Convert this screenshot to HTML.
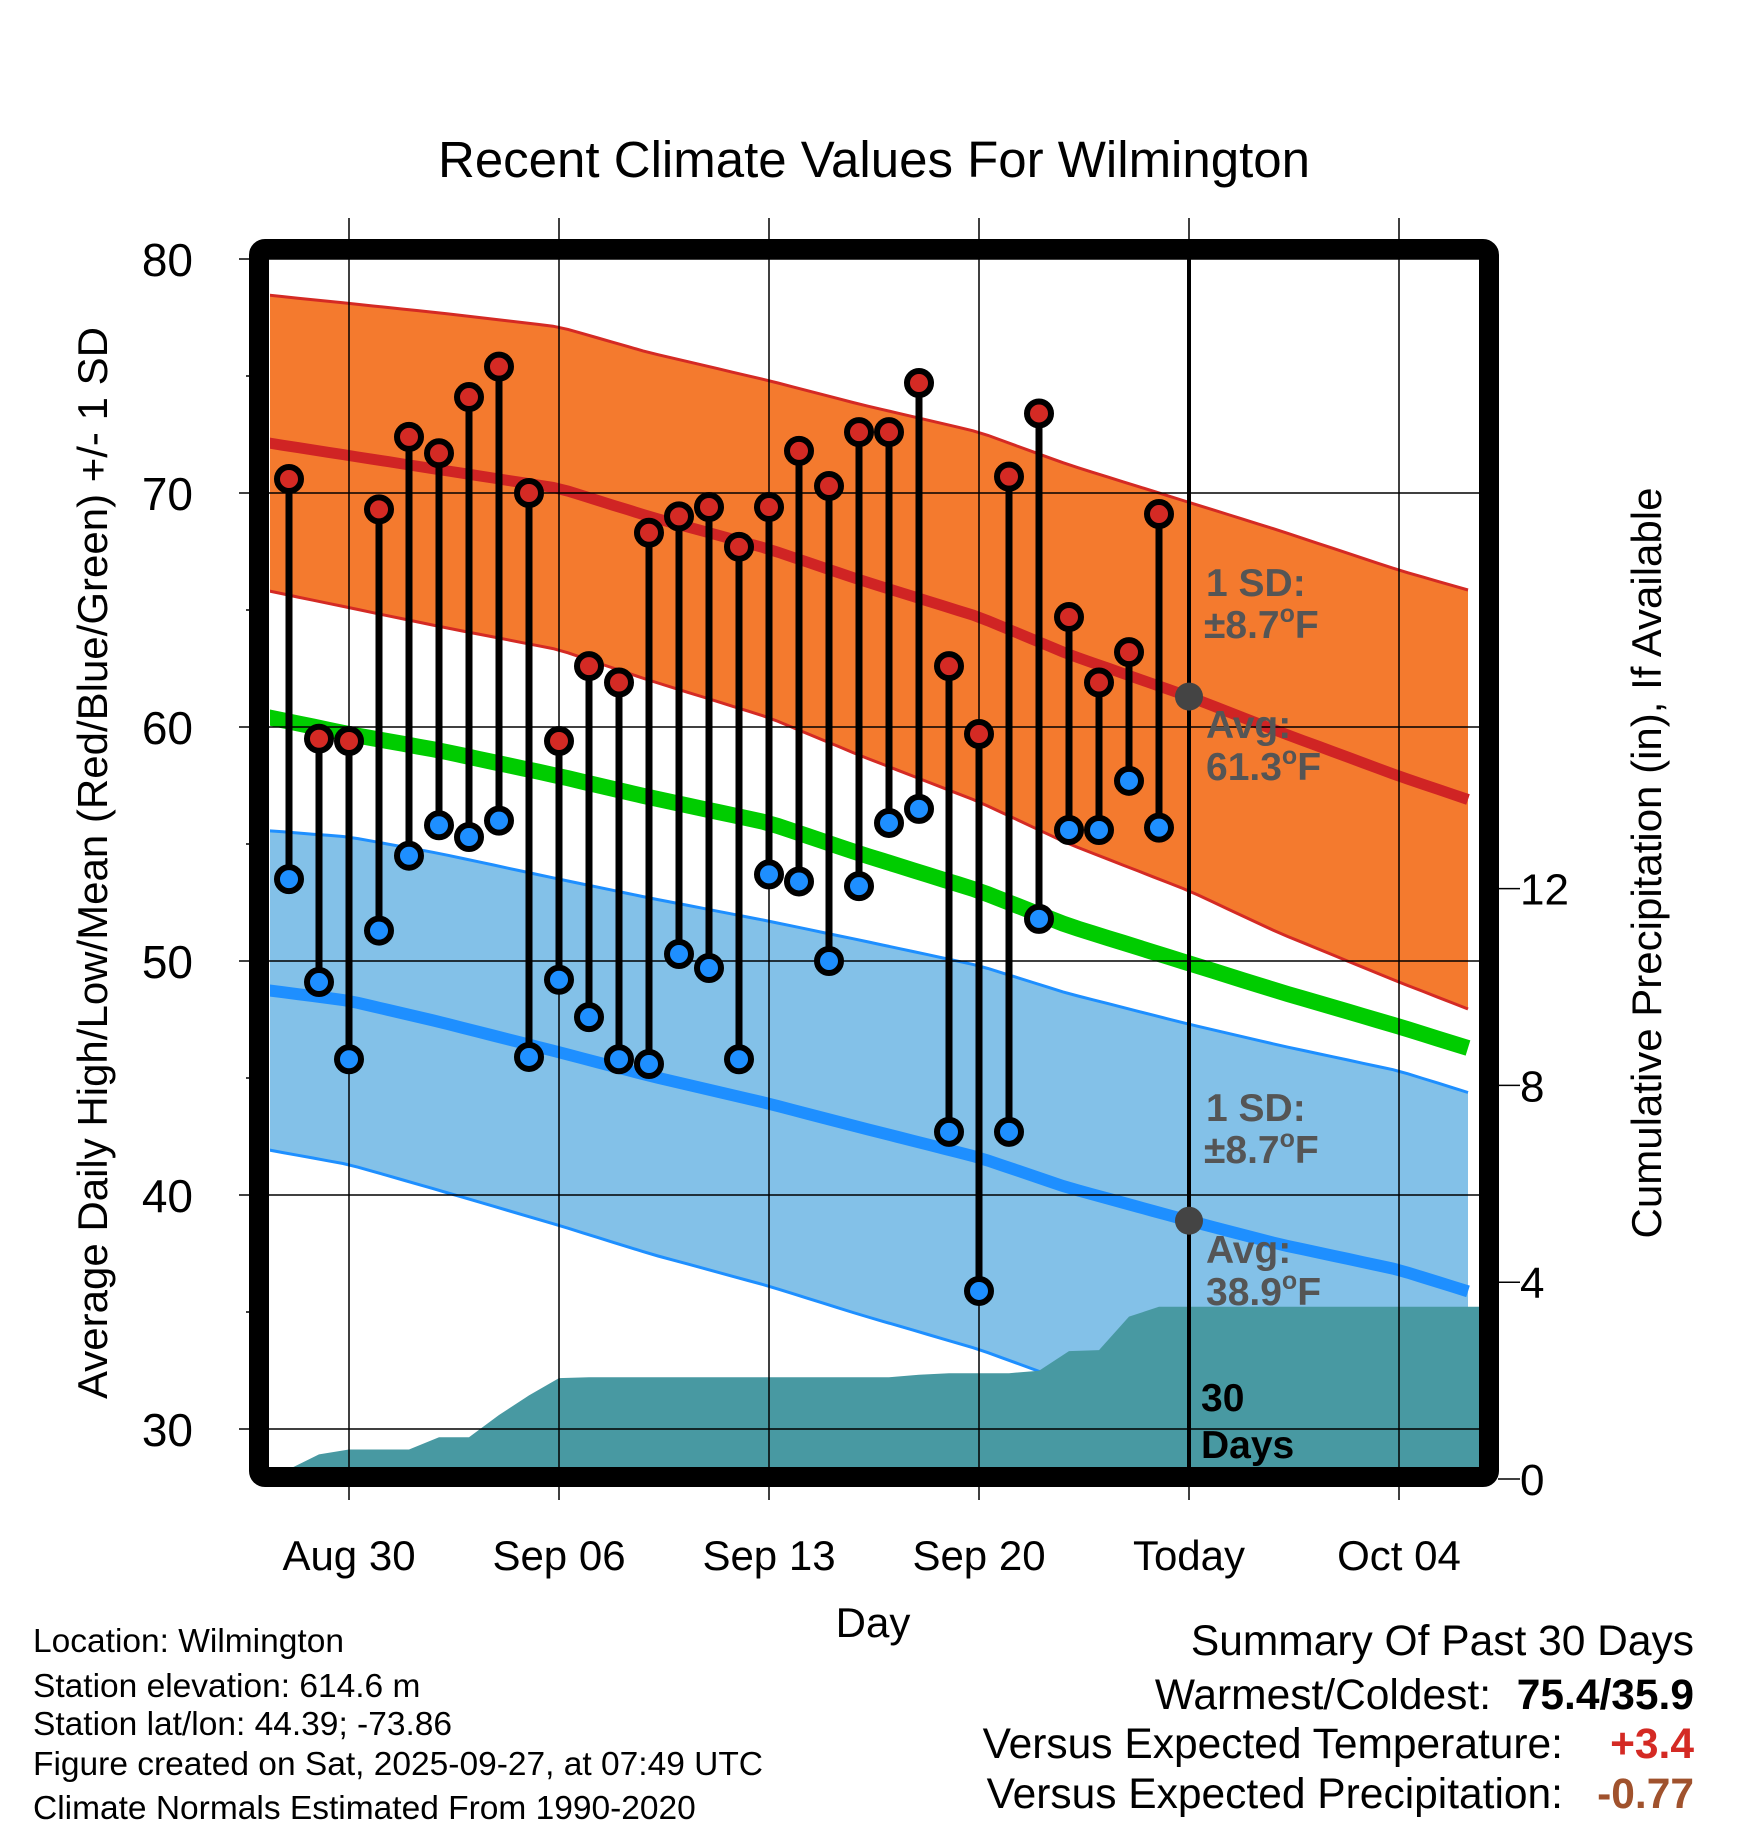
<!DOCTYPE html>
<html><head><meta charset="utf-8">
<style>
html,body{margin:0;padding:0;background:#fff;}
svg{display:block;font-family:"Liberation Sans",sans-serif;}
</style></head>
<body>
<svg id="chart" width="1748" height="1828" viewBox="0 0 1748 1828">
<g id="bands"></g>
<g id="grid"></g>
<g id="stems"></g>
<g id="overlay"></g>
</svg>
<script>
// ---- data ----
const normDays = [-3, 0, 3, 7, 10, 14, 17, 21, 24, 28, 31, 35, 38];
const normHigh = [72.2, 71.6, 71.0, 70.2, 69.0, 67.6, 66.3, 64.7, 63.1, 61.3, 59.8, 57.9, 56.6];
const sdHigh   = [6.3, 6.5, 6.7, 6.9, 7.0, 7.2, 7.5, 7.9, 8.1, 8.3, 8.6, 8.8, 9.0];
const normMean = [60.5, 59.7, 59.0, 57.9, 57.0, 55.9, 54.6, 53.0, 51.5, 49.9, 48.7, 47.2, 46.0];
const normLow  = [48.8, 48.3, 47.4, 46.1, 45.1, 43.9, 42.9, 41.6, 40.3, 38.9, 37.9, 36.8, 35.6];
const sdLow    = [6.8, 7.0, 7.2, 7.4, 7.6, 7.8, 8.0, 8.2, 8.3, 8.4, 8.5, 8.5, 8.5];
const obsDays  = [-2,-1,0,1,2,3,4,5,6,7,8,9,10,11,12,13,14,15,16,17,18,19,20,21,22,23,24,25,26,27];
const obsHigh  = [70.6,59.5,59.4,69.3,72.4,71.7,74.1,75.4,70.0,59.4,62.6,61.9,68.3,69.0,69.4,67.7,69.4,71.8,70.3,72.6,72.6,74.7,62.6,59.7,70.7,73.4,64.7,61.9,63.2,69.1];
const obsLow   = [53.5,49.1,45.8,51.3,54.5,55.8,55.3,56.0,45.9,49.2,47.6,45.8,45.6,50.3,49.7,45.8,53.7,53.4,50.0,53.2,55.9,56.5,42.7,35.9,42.7,51.8,55.6,55.6,57.7,55.7];
const precipDays = [-3,-2,-1,0,1,2,3,4,5,6,7,8,18,19,20,22,23,24,25,26,27,38];
const precipCum  = [0.15,0.2,0.5,0.6,0.6,0.6,0.85,0.85,1.3,1.7,2.05,2.07,2.07,2.12,2.15,2.15,2.2,2.6,2.62,3.3,3.5,3.5];
const xTickDays = [0,7,14,21,28,35];
const xTickLabels = ["Aug 30","Sep 06","Sep 13","Sep 20","Today","Oct 04"];
const yTicks = [30,40,50,60,70,80];
const pTicks = [0,4,8,12];
// ---- scales ----
const L=270,R=1479,T=259,B=1469;
const dMin=-2.7,dMax=37.6;
function X(d){return 349+30*d;}
function Y(t){return 259+(80-t)*23.4;}
function P(p){return 1479-p*49.2;}
const NS="http://www.w3.org/2000/svg";
function el(parent,tag,attrs,text){const e=document.createElementNS(NS,tag);for(const k in attrs)e.setAttribute(k,attrs[k]);if(text!==undefined)e.textContent=text;parent.appendChild(e);return e;}
function interp(xs,ys,x){if(x<=xs[0])return ys[0];for(let i=1;i<xs.length;i++){if(x<=xs[i]){const f=(x-xs[i-1])/(xs[i]-xs[i-1]);return ys[i-1]+f*(ys[i]-ys[i-1]);}}return ys[ys.length-1];}
const samp=[];for(let d=dMin;d<=dMax+0.001;d+=0.5)samp.push(Math.min(d,dMax));
function curve(fn){return samp.map(d=>[X(d),Y(fn(d))]);}
function pts(a){return a.map(p=>p[0].toFixed(1)+","+p[1].toFixed(1)).join(" ");}
const svg=document.getElementById('chart');
const gb=document.getElementById('bands'),gg=document.getElementById('grid'),gs=document.getElementById('stems'),go=document.getElementById('overlay');
const clip=el(svg,'defs',{});const cp=el(clip,'clipPath',{id:'plotclip'});el(cp,'rect',{x:L,y:T,width:R-L,height:B-T});
gb.setAttribute('clip-path','url(#plotclip)');
const hu=curve(d=>interp(normDays,normHigh,d)+interp(normDays,sdHigh,d));
const hl=curve(d=>interp(normDays,normHigh,d)-interp(normDays,sdHigh,d));
let e=el(gb,'polygon',{points:pts(hu.concat(hl.slice().reverse())),fill:'#f47a2e'});


el(gb,'polyline',{points:pts(hu),fill:'none',stroke:'#d42a24','stroke-width':3});
el(gb,'polyline',{points:pts(hl),fill:'none',stroke:'#d42a24','stroke-width':3});
const lu=curve(d=>interp(normDays,normLow,d)+interp(normDays,sdLow,d));
const ll=curve(d=>interp(normDays,normLow,d)-interp(normDays,sdLow,d));
e=el(gb,'polygon',{points:pts(lu.concat(ll.slice().reverse())),fill:'#83c1e8'});


el(gb,'polyline',{points:pts(lu),fill:'none',stroke:'#1e8fff','stroke-width':3});
el(gb,'polyline',{points:pts(ll),fill:'none',stroke:'#1e8fff','stroke-width':3});
let pp=[[X(precipDays[0]),B+10]];
for(let i=0;i<precipDays.length;i++)pp.push([X(precipDays[i]),P(precipCum[i])]);
pp.push([X(precipDays[precipDays.length-1]),B+10]);
e=el(gb,'polygon',{points:pts(pp),fill:'#4899a2'});


e=el(gb,'polyline',{points:pts(curve(d=>interp(normDays,normMean,d))),fill:'none',stroke:'#00cc00','stroke-width':16});


e=el(gb,'polyline',{points:pts(curve(d=>interp(normDays,normHigh,d))),fill:'none',stroke:'#d02424','stroke-width':11});


e=el(gb,'polyline',{points:pts(curve(d=>interp(normDays,normLow,d))),fill:'none',stroke:'#1e8fff','stroke-width':12});


yTicks.forEach(t=>{
  el(gg,'line',{x1:239,x2:R,y1:Y(t),y2:Y(t),stroke:'#000','stroke-width':1.5});
  e=el(gg,'text',{x:193,y:Y(t)+17,'text-anchor':'end','font-size':46},String(t));
  
  
});
for(let t=35;t<80;t+=10){el(gg,'line',{x1:246,x2:258,y1:Y(t),y2:Y(t),stroke:'#000','stroke-width':1.5});}
xTickDays.forEach((d,i)=>{
  el(gg,'line',{x1:X(d),x2:X(d),y1:218,y2:B,stroke:'#000','stroke-width':1.5});
  el(gg,'line',{x1:X(d),x2:X(d),y1:1486,y2:1500,stroke:'#000','stroke-width':1.5});
  e=el(gg,'text',{x:X(d),y:1570,'text-anchor':'middle','font-size':42},xTickLabels[i]);
  
  
});
pTicks.forEach(p=>{
  el(gg,'line',{x1:1498,x2:1520,y1:P(p),y2:P(p),stroke:'#000','stroke-width':1.5});
  e=el(gg,'text',{x:1520,y:P(p)+16,'font-size':44},String(p));
  
  
});
obsDays.forEach((d,i)=>{
  const x=X(d);
  el(gs,'line',{x1:x,x2:x,y1:Y(obsHigh[i]),y2:Y(obsLow[i]),stroke:'#000','stroke-width':7});
  e=el(gs,'circle',{cx:x,cy:Y(obsHigh[i]),r:12,fill:'#d42a24',stroke:'#000','stroke-width':6});
  
  
  e=el(gs,'circle',{cx:x,cy:Y(obsLow[i]),r:12,fill:'#1e8fff',stroke:'#000','stroke-width':6});
  
  
});
el(go,'line',{x1:X(28),x2:X(28),y1:T,y2:B,stroke:'#000','stroke-width':4});
el(go,'circle',{cx:X(28),cy:Y(interp(normDays,normHigh,28)),r:14,fill:'#444'});
el(go,'circle',{cx:X(28),cy:Y(interp(normDays,normLow,28)),r:14,fill:'#444'});
e=el(go,'rect',{x:259,y:249,width:1230,height:1228,fill:'none',stroke:'#000','stroke-width':20,rx:6});


</script>
<svg width="1748" height="1828" style="position:absolute;left:0;top:0">
<g font-family="Liberation Sans, sans-serif">
<text x="874" y="177" text-anchor="middle" font-size="51">Recent Climate Values For Wilmington</text>
<text transform="translate(107,863) rotate(-90)" text-anchor="middle" font-size="42">Average Daily High/Low/Mean (Red/Blue/Green) +/- 1 SD</text>
<text transform="translate(1661,863) rotate(-90)" text-anchor="middle" font-size="42">Cumulative Precipitation (in), If Available</text>
<text x="873" y="1637" text-anchor="middle" font-size="42">Day</text>
<g font-weight="bold" fill="#555" font-size="39">
<text x="1206" y="596">1 SD:</text>
<text x="1204" y="638">±8.7<tspan dy="-16" font-size="25">o</tspan><tspan dy="16">F</tspan></text>
<text x="1206" y="738">Avg:</text>
<text x="1206" y="780">61.3<tspan dy="-16" font-size="25">o</tspan><tspan dy="16">F</tspan></text>
<text x="1206" y="1121">1 SD:</text>
<text x="1204" y="1163">±8.7<tspan dy="-16" font-size="25">o</tspan><tspan dy="16">F</tspan></text>
<text x="1206" y="1263">Avg:</text>
<text x="1206" y="1305">38.9<tspan dy="-16" font-size="25">o</tspan><tspan dy="16">F</tspan></text>
</g>
<text x="1201" y="1411" font-weight="bold" font-size="39">30</text>
<text x="1201" y="1458" font-weight="bold" font-size="39">Days</text>
<g font-size="33.5">
<text x="33" y="1652">Location: Wilmington</text>
<text x="33" y="1697">Station elevation: 614.6 m</text>
<text x="33" y="1735">Station lat/lon: 44.39; -73.86</text>
<text x="33" y="1775">Figure created on Sat, 2025-09-27, at 07:49 UTC</text>
<text x="33" y="1819">Climate Normals Estimated From 1990-2020</text>
</g>
<g font-size="42.5">
<text x="1694" y="1655" text-anchor="end">Summary Of Past 30 Days</text>
<text x="1491" y="1709" text-anchor="end">Warmest/Coldest:</text>
<text x="1694" y="1709" text-anchor="end" font-weight="bold">75.4/35.9</text>
<text x="1563" y="1758" text-anchor="end">Versus Expected Temperature:</text>
<text x="1694" y="1758" text-anchor="end" font-weight="bold" fill="#d42a24">+3.4</text>
<text x="1563" y="1808" text-anchor="end">Versus Expected Precipitation:</text>
<text x="1694" y="1808" text-anchor="end" font-weight="bold" fill="#a0522d">-0.77</text>
</g>
</g>
</svg>
</body></html>
